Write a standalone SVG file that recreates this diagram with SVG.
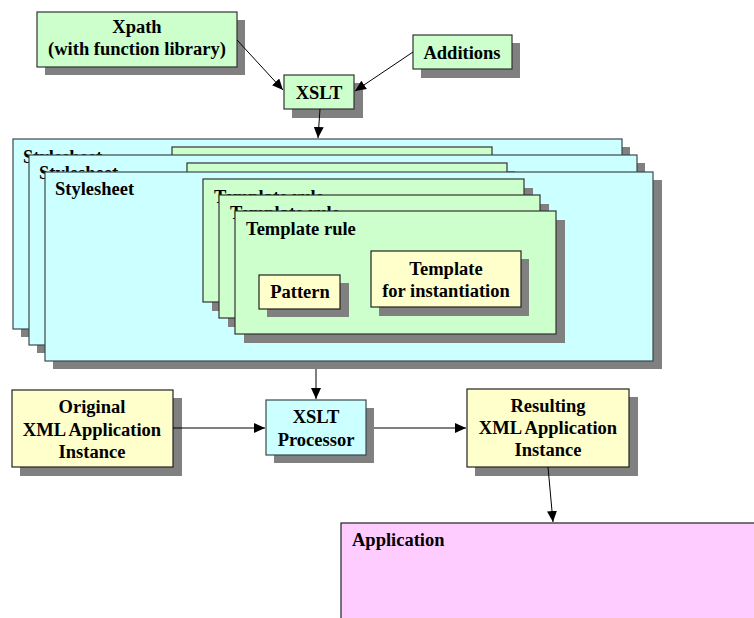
<svg xmlns="http://www.w3.org/2000/svg" width="754" height="618" viewBox="0 0 754 618">
<style>
text{font-family:"Liberation Serif","Times New Roman",serif;font-weight:bold;font-size:18.5px;fill:#000}
.c{text-anchor:middle}
.sh{fill:#808080}
.g{fill:#CCFFCC;stroke:#333;stroke-width:1.2}
.b{fill:#CCFFFF;stroke:#3a4a4a;stroke-width:1.2}
.y{fill:#FFFFCC;stroke:#222;stroke-width:1.2}
.p{fill:#FFCCFF;stroke:#222;stroke-width:1.2}
.e{fill:none;stroke:#000;stroke-width:1}
</style>
<defs>
<marker id="ah" markerUnits="userSpaceOnUse" markerWidth="12" markerHeight="10" refX="11" refY="5" orient="auto">
<path d="M0,0 L11,5 L0,10 Z" fill="#000"/>
</marker>
</defs>
<rect width="754" height="618" fill="#fff"/>

<g id="xpath">
<rect class="sh" x="45" y="20" width="200" height="55"/>
<rect class="g" x="37" y="12" width="200" height="55"/>
<text class="c" x="137" y="33">Xpath</text>
<text class="c" x="137" y="55">(with function library)</text>
</g>
<g id="additions">
<rect class="sh" x="421" y="43" width="99" height="35"/>
<rect class="g" x="413" y="35" width="99" height="34"/>
<text class="c" x="462" y="59">Additions</text>
</g>
<g id="xslt">
<rect class="sh" x="292" y="83" width="71" height="35"/>
<rect class="g" x="284" y="75" width="70" height="34"/>
<text class="c" x="319" y="99">XSLT</text>
</g>

<g id="stylesheet1">
<rect class="sh" x="21" y="147" width="609" height="190"/>
<rect class="b" x="13" y="139" width="609" height="190"/>
<text x="23" y="163">Stylesheet</text>
<rect class="sh" x="180" y="155" width="320" height="123"/>
<rect class="g" x="172" y="147" width="320" height="123"/>
</g>
<g id="stylesheet2">
<rect class="sh" x="37" y="163" width="608" height="190"/>
<rect class="b" x="29" y="155" width="608" height="190"/>
<text x="39" y="179">Stylesheet</text>
<rect class="sh" x="195" y="171" width="320" height="123"/>
<rect class="g" x="187" y="163" width="320" height="123"/>
</g>
<g id="stylesheet3">
<rect class="sh" x="53" y="180" width="609" height="189"/>
<rect class="b" x="45" y="172" width="608" height="189"/>
<text x="55" y="195">Stylesheet</text>
</g>
<g id="template-rule1">
<rect class="sh" x="212" y="188" width="321" height="123"/>
<rect class="g" x="203" y="179" width="321" height="123"/>
<text x="214" y="203">Template rule</text>
</g>
<g id="template-rule2">
<rect class="sh" x="228" y="204" width="321" height="123"/>
<rect class="g" x="219" y="195" width="321" height="123"/>
<text x="230" y="219">Template rule</text>
</g>
<g id="template-rule3">
<rect class="sh" x="244" y="220" width="321" height="123"/>
<rect class="g" x="235" y="211" width="321" height="123"/>
<text x="246" y="235">Template rule</text>
</g>
<g id="pattern">
<rect class="sh" x="267" y="283" width="82" height="34"/>
<rect class="y" x="259" y="275" width="81" height="34"/>
<text class="c" x="300" y="298">Pattern</text>
</g>
<g id="template">
<rect class="sh" x="379" y="259" width="150" height="57"/>
<rect class="y" x="371" y="251" width="150" height="56"/>
<text class="c" x="446" y="275">Template</text>
<text class="c" x="446" y="297">for instantiation</text>
</g>

<g id="original">
<rect class="sh" x="20" y="398" width="162" height="78"/>
<rect class="y" x="12" y="390" width="161" height="77"/>
<text class="c" x="92" y="413">Original</text>
<text class="c" x="92" y="436">XML Application</text>
<text class="c" x="92" y="458">Instance</text>
</g>
<g id="processor">
<rect class="sh" x="274" y="408" width="100" height="55"/>
<rect class="b" x="266" y="400" width="100" height="55"/>
<text class="c" x="316" y="423">XSLT</text>
<text class="c" x="316" y="446">Processor</text>
</g>
<g id="resulting">
<rect class="sh" x="475" y="397" width="163" height="79"/>
<rect class="y" x="467" y="389" width="162" height="78"/>
<text class="c" x="548" y="412">Resulting</text>
<text class="c" x="548" y="434">XML Application</text>
<text class="c" x="548" y="456">Instance</text>
</g>
<g id="application">
<rect class="p" x="341" y="523" width="420" height="110"/>
<text x="352" y="546">Application</text>
</g>

<g id="connectors">
<line class="e" x1="237" y1="40" x2="283" y2="90" marker-end="url(#ah)"/>
<line class="e" x1="413" y1="52" x2="355" y2="91" marker-end="url(#ah)"/>
<line class="e" x1="320" y1="109" x2="318" y2="138" marker-end="url(#ah)"/>
<line class="e" x1="316" y1="369" x2="316" y2="399" marker-end="url(#ah)"/>
<line class="e" x1="173" y1="428" x2="265" y2="428" marker-end="url(#ah)"/>
<line class="e" x1="374" y1="428" x2="466" y2="428" marker-end="url(#ah)"/>
<line class="e" x1="548" y1="467" x2="553" y2="522" marker-end="url(#ah)"/>
</g>
</svg>
